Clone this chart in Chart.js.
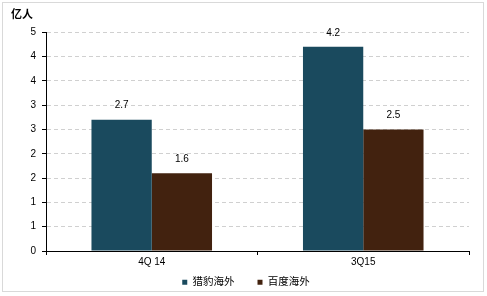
<!DOCTYPE html>
<html>
<head>
<meta charset="utf-8">
<script src="https://cdn.jsdelivr.net/npm/chart.js@4"></script>
<style>
  body { margin: 0; background: #fff; }
  #box { position: absolute; left: 2px; top: 2px; width: 480px; height: 288px; border: 1px solid #d9d9d9; }
</style>
</head>
<body>
<div id="box"><canvas id="chart" width="480" height="288"></canvas></div>
<script>
// data
const categories = ['4Q 14', '3Q15'];
const seriesNames = ['猎豹海外', '百度海外'];
const cheetahValues = [2.7, 4.2];
const baiduValues = [1.6, 2.5];
const unitLabel = '亿人';

const FONT = 'Arial, "Liberation Sans", "Noto Sans CJK SC", sans-serif';
const LEGEND_GAP = 23;

// value labels above bars
const barLabels = {
    id: 'barLabels',
    afterDatasetsDraw(chart) {
        const ctx = chart.ctx;
        ctx.save();
        ctx.font = '10px ' + FONT;
        ctx.fillStyle = '#000';
        ctx.textAlign = 'center';
        ctx.textBaseline = 'bottom';
        chart.data.datasets.forEach((ds, i) => {
            chart.getDatasetMeta(i).data.forEach((bar, j) => {
                ctx.fillText(ds.data[j].toFixed(1), bar.x, bar.y - 9);
            });
        });
        ctx.restore();
    }
};

// the legend padding is also used vertically, pull the row back up
const legendShift = {
    id: 'legendShift',
    afterLayout(chart) {
        const lg = chart.legend;
        if (!lg) return;
        lg.top -= LEGEND_GAP - 8;
        lg.left += 6;
        lg.right += 6;
    }
};

new Chart(document.getElementById('chart'), {
    type: 'bar',
    data: {
        labels: categories,
        datasets: [
            { label: seriesNames[0], data: cheetahValues, backgroundColor: '#1a4a5e' },
            { label: seriesNames[1], data: baiduValues, backgroundColor: '#42220f' }
        ]
    },
    options: {
        responsive: false,
        animation: false,
        layout: { padding: { left: 8, right: 14, top: 0, bottom: 0 } },
        datasets: { bar: { categoryPercentage: 0.57, barPercentage: 1.0 } },
        plugins: {
            title: {
                display: true, text: unitLabel, align: 'start', color: '#000',
                font: { family: FONT, size: 11, weight: 'bold' },
                padding: { top: 5, bottom: 11 }
            },
            legend: {
                position: 'bottom',
                maxHeight: 22,
                labels: {
                    boxWidth: 5, boxHeight: 5, color: '#000',
                    font: { family: FONT, size: 10.5 }, padding: LEGEND_GAP
                }
            },
            tooltip: { enabled: false }
        },
        scales: {
            x: {
                grid: { offset: true, drawOnChartArea: false, drawTicks: true, tickLength: 4, tickColor: '#000' },
                border: { color: '#000', width: 1 },
                ticks: { color: '#000', font: { family: FONT, size: 10 }, padding: 1 }
            },
            y: {
                min: 0, max: 4.5,
                afterFit(scale) { scale.width = 35; },
                grid: { color: '#d0d0d0', tickColor: '#000', tickLength: 4 },
                border: { color: '#000', width: 1, dash: [4, 3] },
                ticks: {
                    stepSize: 0.5, color: '#000', padding: 6,
                    font: { family: FONT, size: 10 },
                    callback: v => Math.round(v).toString()
                }
            }
        }
    },
    plugins: [barLabels, legendShift]
});
</script>
</body>
</html>
